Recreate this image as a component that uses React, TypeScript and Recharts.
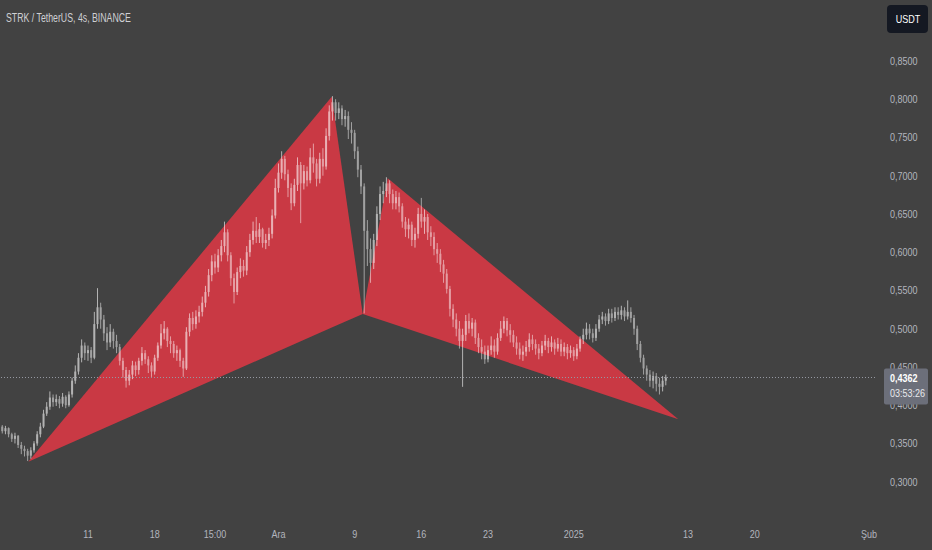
import React from 'react';
import { ComposedChart, Bar, Area, XAxis, YAxis, ReferenceLine } from 'recharts';

// STRK / USDT, 8h candles (open = previous close)
const firstOpen = 0.372;
const startDay = 1; // days after 1 Nov 2024 00:00
const step = 1 / 3;

const closes = [
  0.366, 0.37, 0.362, 0.356, 0.36, 0.348, 0.343, 0.34, 0.334, 0.341,
  0.35, 0.362, 0.372, 0.389, 0.398, 0.41, 0.404, 0.408, 0.402, 0.411,
  0.4, 0.414, 0.432, 0.444, 0.462, 0.478, 0.468, 0.472, 0.462, 0.506,
  0.528, 0.512, 0.494, 0.482, 0.496, 0.484, 0.476, 0.458, 0.446, 0.432,
  0.44, 0.452, 0.446, 0.458, 0.468, 0.46, 0.452, 0.444, 0.462, 0.478,
  0.494, 0.5, 0.484, 0.48, 0.468, 0.472, 0.458, 0.448, 0.496, 0.514,
  0.506, 0.516, 0.522, 0.534, 0.548, 0.57, 0.588, 0.58, 0.596, 0.608,
  0.626, 0.596, 0.566, 0.548, 0.574, 0.582, 0.576, 0.6, 0.616, 0.628,
  0.62, 0.63, 0.612, 0.616, 0.624, 0.648, 0.684, 0.704, 0.722, 0.702,
  0.684, 0.664, 0.688, 0.714, 0.69, 0.706, 0.694, 0.724, 0.716, 0.696,
  0.722, 0.712, 0.752, 0.784, 0.796, 0.782, 0.788, 0.774, 0.778, 0.76,
  0.756, 0.732, 0.708, 0.686, 0.628, 0.604, 0.586, 0.616, 0.65, 0.676,
  0.68, 0.69, 0.676, 0.664, 0.672, 0.66, 0.64, 0.63, 0.636, 0.616,
  0.624, 0.65, 0.64, 0.646, 0.626, 0.62, 0.604, 0.598, 0.584, 0.572,
  0.552, 0.526, 0.512, 0.5, 0.484, 0.492, 0.51, 0.5, 0.508, 0.488,
  0.476, 0.47, 0.46, 0.472, 0.478, 0.47, 0.488, 0.5, 0.51, 0.498,
  0.492, 0.482, 0.474, 0.466, 0.47, 0.476, 0.486, 0.48, 0.474, 0.468,
  0.478, 0.484, 0.476, 0.482, 0.474, 0.48, 0.47, 0.476, 0.468, 0.472,
  0.464, 0.474, 0.486, 0.492, 0.5, 0.494, 0.488, 0.5, 0.512, 0.516,
  0.51, 0.52, 0.514, 0.522, 0.518, 0.524, 0.516, 0.522, 0.514, 0.5,
  0.48, 0.462, 0.448, 0.44, 0.432, 0.438, 0.428, 0.424, 0.432, 0.4362,
];

const highs = [
  0.374, 0.373, 0.371, 0.364, 0.364, 0.361, 0.352, 0.347, 0.343, 0.345,
  0.353, 0.366, 0.377, 0.394, 0.404, 0.418, 0.414, 0.414, 0.412, 0.416,
  0.413, 0.418, 0.436, 0.452, 0.468, 0.486, 0.482, 0.478, 0.476, 0.522,
  0.553, 0.534, 0.518, 0.502, 0.506, 0.5, 0.492, 0.48, 0.462, 0.45,
  0.446, 0.458, 0.457, 0.462, 0.476, 0.472, 0.464, 0.456, 0.466, 0.482,
  0.506, 0.51, 0.502, 0.49, 0.484, 0.478, 0.474, 0.462, 0.502, 0.52,
  0.522, 0.524, 0.53, 0.542, 0.556, 0.578, 0.596, 0.598, 0.604, 0.616,
  0.64, 0.63, 0.6, 0.572, 0.58, 0.592, 0.59, 0.608, 0.624, 0.64,
  0.646, 0.638, 0.632, 0.624, 0.632, 0.656, 0.696, 0.716, 0.732, 0.726,
  0.708, 0.69, 0.696, 0.724, 0.718, 0.714, 0.712, 0.736, 0.742, 0.722,
  0.73, 0.736, 0.762, 0.792, 0.804, 0.8, 0.796, 0.792, 0.786, 0.784,
  0.77, 0.76, 0.738, 0.714, 0.69, 0.642, 0.618, 0.624, 0.66, 0.686,
  0.692, 0.698, 0.694, 0.682, 0.68, 0.678, 0.664, 0.646, 0.644, 0.64,
  0.632, 0.658, 0.671, 0.656, 0.65, 0.634, 0.626, 0.612, 0.604, 0.59,
  0.578, 0.556, 0.532, 0.52, 0.51, 0.5, 0.518, 0.52, 0.514, 0.512,
  0.494, 0.486, 0.478, 0.478, 0.49, 0.486, 0.494, 0.51, 0.516, 0.514,
  0.506, 0.498, 0.49, 0.482, 0.478, 0.484, 0.494, 0.492, 0.486, 0.48,
  0.484, 0.492, 0.488, 0.49, 0.486, 0.488, 0.486, 0.482, 0.48, 0.478,
  0.476, 0.48, 0.49, 0.5, 0.508, 0.506, 0.5, 0.506, 0.518, 0.522,
  0.52, 0.526, 0.526, 0.528, 0.528, 0.53, 0.528, 0.537, 0.528, 0.518,
  0.504, 0.484, 0.466, 0.452, 0.446, 0.444, 0.442, 0.436, 0.438, 0.44,
];

const lows = [
  0.363, 0.362, 0.358, 0.352, 0.35, 0.344, 0.336, 0.333, 0.327, 0.33,
  0.338, 0.347, 0.358, 0.37, 0.386, 0.394, 0.398, 0.399, 0.396, 0.398,
  0.396, 0.398, 0.41, 0.428, 0.44, 0.456, 0.459, 0.458, 0.455, 0.46,
  0.5, 0.5, 0.484, 0.472, 0.476, 0.474, 0.468, 0.452, 0.436, 0.423,
  0.426, 0.434, 0.438, 0.44, 0.452, 0.454, 0.442, 0.437, 0.44, 0.458,
  0.474, 0.486, 0.476, 0.468, 0.462, 0.458, 0.45, 0.437, 0.446, 0.49,
  0.498, 0.5, 0.508, 0.516, 0.528, 0.542, 0.562, 0.572, 0.574, 0.588,
  0.6, 0.588, 0.556, 0.533, 0.544, 0.566, 0.568, 0.57, 0.594, 0.61,
  0.612, 0.612, 0.606, 0.604, 0.608, 0.618, 0.644, 0.678, 0.696, 0.694,
  0.672, 0.655, 0.66, 0.68, 0.638, 0.682, 0.686, 0.69, 0.704, 0.686,
  0.69, 0.7, 0.708, 0.746, 0.772, 0.772, 0.774, 0.766, 0.764, 0.748,
  0.742, 0.722, 0.698, 0.676, 0.52, 0.582, 0.56, 0.578, 0.608, 0.642,
  0.664, 0.672, 0.664, 0.656, 0.656, 0.652, 0.632, 0.62, 0.618, 0.608,
  0.606, 0.618, 0.632, 0.624, 0.616, 0.608, 0.596, 0.586, 0.574, 0.56,
  0.546, 0.516, 0.502, 0.49, 0.474, 0.424, 0.484, 0.494, 0.49, 0.48,
  0.468, 0.46, 0.454, 0.456, 0.466, 0.462, 0.466, 0.484, 0.494, 0.49,
  0.482, 0.476, 0.466, 0.46, 0.458, 0.464, 0.47, 0.472, 0.466, 0.46,
  0.464, 0.472, 0.468, 0.47, 0.466, 0.47, 0.464, 0.464, 0.46, 0.462,
  0.458, 0.46, 0.47, 0.48, 0.486, 0.486, 0.482, 0.484, 0.496, 0.506,
  0.504, 0.506, 0.508, 0.51, 0.512, 0.512, 0.51, 0.512, 0.508, 0.492,
  0.472, 0.456, 0.44, 0.432, 0.424, 0.422, 0.418, 0.414, 0.418, 0.426,
];

// XABCD pattern pivots
const pivotDays = [3.73, 35.59, 38.84, 41.47, 71.98];
const pivotPrices = [0.326, 0.8033, 0.5193, 0.6966, 0.3816];

const timeTicks = [10, 17, 23.33, 30, 38, 45, 52, 61, 73, 80, 92];
const timeLabels = ['11', '18', '15:00', 'Ara', '9', '16', '23', '2025', '13', '20', 'Şub'];
const priceTicks = [0.3, 0.35, 0.4, 0.45, 0.5, 0.55, 0.6, 0.65, 0.7, 0.75, 0.8, 0.85];
const lastPrice = 0.4362;
const countdown = '03:53:26';
const title = 'STRK / TetherUS, 4s, BINANCE';

// no narrow face installed, so squeeze Liberation Sans horizontally
const FONT = '"Liberation Sans", Arial, sans-serif';
const NARROW = 0.82;
const BG = '#424242';
const AXIS_TEXT = '#b2b5be';

const candles = closes.map((close, i) => ({
  day: startDay + i * step,
  open: i === 0 ? firstOpen : closes[i - 1],
  close,
  high: highs[i],
  low: lows[i],
  range: [lows[i], highs[i]],
}));

// value on the straight line between two pivots, at a given day
const onLine = (a: number, b: number, day: number) =>
  pivotPrices[a] + ((pivotPrices[b] - pivotPrices[a]) * (day - pivotDays[a])) / (pivotDays[b] - pivotDays[a]);

const wing = (p: number, q: number, r: number) => [
  { day: pivotDays[p], band: [pivotPrices[p], pivotPrices[p]] },
  { day: pivotDays[q], band: [onLine(p, r, pivotDays[q]), pivotPrices[q]] },
  { day: pivotDays[r], band: [pivotPrices[r], pivotPrices[r]] },
];
const leftWing = wing(0, 1, 2);
const rightWing = wing(2, 3, 4);

const fmt = (v: number) => v.toFixed(4).replace('.', ',');

const NarrowText = ({ x, y, anchor = 'start', children, ...rest }: any) => (
  <text
    transform={`translate(${x},${y}) scale(${NARROW},1)`}
    x={0}
    y={0}
    textAnchor={anchor}
    fontFamily={FONT}
    fontSize={11}
    {...rest}
  >
    {children}
  </text>
);

const Candle = (props: any) => {
  const { x, y, width, height, payload } = props;
  if (x == null || !payload) return null;
  const top = Math.min(y, y + height);
  const span = Math.abs(height);
  const cx = x + width / 2;
  const { open, close, high, low } = payload;
  const toPx = (v: number) => (high === low ? top : top + ((high - v) / (high - low)) * span);
  const bodyTop = toPx(Math.max(open, close));
  const bodyBottom = toPx(Math.min(open, close));
  return (
    <g opacity={close >= open ? 0.6 : 0.5}>
      <rect x={cx - 0.5} y={top} width={1} height={Math.max(span, 1)} fill="#ffffff" />
      <rect x={cx - 1} y={bodyTop} width={2} height={Math.max(bodyBottom - bodyTop, 1)} fill="#ffffff" />
    </g>
  );
};

const TimeTick = (props: any) => {
  const { x, y, payload } = props;
  const label = timeLabels[timeTicks.indexOf(payload.value)];
  return (
    <NarrowText x={x} y={y} dy="0.71em" anchor="middle" fill={AXIS_TEXT}>
      {label}
    </NarrowText>
  );
};

const PriceTick = (props: any) => {
  const { x, y, payload } = props;
  const v: number = payload.value;
  if (v === lastPrice) {
    return (
      <g>
        <rect x={x - 6} y={y - 9} width={44} height={36} rx={2} fill="#6c6f7a" />
        <NarrowText x={x} y={y + 1} dy="0.35em" fill="#ffffff" fontWeight="bold">
          {fmt(v)}
        </NarrowText>
        <NarrowText x={x} y={y + 16} dy="0.35em" fill="#e8e9ec">
          {countdown}
        </NarrowText>
      </g>
    );
  }
  return (
    <NarrowText x={x} y={y} dy="0.35em" fill={AXIS_TEXT}>
      {fmt(v)}
    </NarrowText>
  );
};

const App: React.FC = () => {
  return (
    <div style={{ position: 'absolute', left: 0, top: 0, width: 932, height: 550, background: BG }}>
      <ComposedChart width={932} height={550} data={candles} margin={{ top: 0, right: 0, bottom: 0, left: 0 }}>
        <XAxis
          dataKey="day"
          type="number"
          domain={[0.76, 92.63]}
          allowDataOverflow
          ticks={timeTicks}
          interval={0}
          tick={<TimeTick />}
          tickLine={false}
          axisLine={false}
          tickSize={0}
          tickMargin={8}
          height={28}
        />
        <YAxis
          orientation="right"
          type="number"
          domain={[0.2473, 0.9297]}
          allowDataOverflow
          ticks={[...priceTicks, lastPrice]}
          interval={0}
          tick={<PriceTick />}
          tickLine={false}
          axisLine={false}
          tickSize={0}
          tickMargin={15}
          width={57}
        />
        <Area
          data={leftWing}
          dataKey="band"
          type="linear"
          fill="#f23645"
          fillOpacity={0.77}
          stroke="none"
          dot={false}
          activeDot={false}
          isAnimationActive={false}
        />
        <Area
          data={rightWing}
          dataKey="band"
          type="linear"
          fill="#f23645"
          fillOpacity={0.77}
          stroke="none"
          dot={false}
          activeDot={false}
          isAnimationActive={false}
        />
        <Bar dataKey="range" barSize={2} shape={<Candle />} isAnimationActive={false} />
        <ReferenceLine y={lastPrice} stroke="#9598a1" strokeDasharray="1 2" />
      </ComposedChart>
      <div
        style={{
          position: 'absolute',
          left: 6,
          top: 11,
          fontFamily: FONT,
          fontSize: 12,
          color: '#cfd0d4',
          whiteSpace: 'nowrap',
          transform: 'scaleX(0.73)',
          transformOrigin: '0 0',
        }}
      >
        {title}
      </div>
      <div
        style={{
          position: 'absolute',
          left: 887,
          top: 5,
          width: 41,
          height: 28,
          borderRadius: 4,
          background: '#141822',
          color: '#ffffff',
          fontFamily: FONT,
          fontSize: 11,
          lineHeight: '28px',
          textAlign: 'center',
        }}
      >
        <span style={{ display: 'inline-block', transform: `scaleX(${NARROW})` }}>USDT</span>
      </div>
    </div>
  );
};

export default App;
